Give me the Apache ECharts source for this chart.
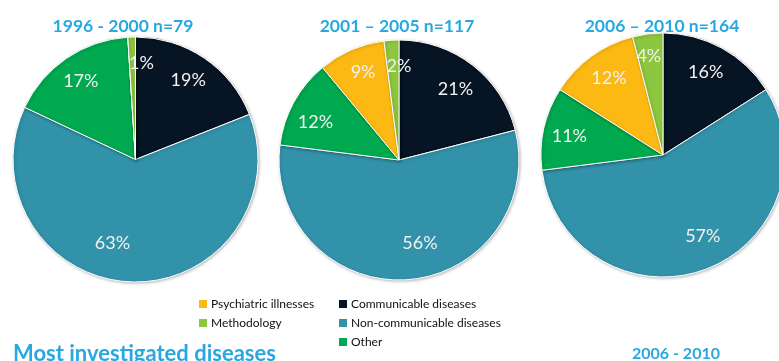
<!DOCTYPE html>
<html>
<head>
<meta charset="utf-8">
<script src="https://cdn.jsdelivr.net/npm/echarts@6/dist/echarts.min.js"></script>
<style>
html,body{margin:0;padding:0;background:#fff;}
#c{width:779px;height:361px;}
</style>
</head>
<body>
<div id="c"></div>
<script>
const categories = ['Communicable diseases','Non-communicable diseases','Other','Psychiatric illnesses','Methodology'];
const colors = ['#061423','#3192aa','#00a84f','#fdb913','#8dc63f'];
const periodTitles = ['1996 - 2000 n=79','2001 \u2013 2005 n=117','2006 \u2013 2010 n=164'];
const values1996 = [19,63,17,0,1];
const values2001 = [21,56,12,9,2];
const values2006 = [16,57,11,12,4];
const legendLeft = ['Psychiatric illnesses','Methodology'];
const legendRight = ['Communicable diseases','Non-communicable diseases','Other'];

const FONT = 'Lato, "Open Sans", sans-serif';
const BLUE = '#29a8e0';

// label nudges (style only), per pie, per category
const nudges = [
  [[-2,1],[-20,-14],[0,2],[0,0],[9,1]],
  [[-2,5],[15,-12],[0,8],[2,0],[6,1]],
  [[-4,2],[7,-10],[1,2],[3,2],[-2,-3]]
];

const pies = [
  {vals: values1996, center: [135.5,159.5], r: 122.5, title: periodTitles[0], tx: 118},
  {vals: values2001, center: [399,160], r: 120, title: periodTitles[1], tx: 392},
  {vals: values2006, center: [663,155], r: 122, title: periodTitles[2], tx: 657}
];

const series = [];
pies.forEach((p, pi) => {
  const data = categories.map((n,i)=>({name:n, value:p.vals[i]}));
  series.push({
    type:'pie', center:p.center, radius:[0,p.r], startAngle:90, clockwise:true,
    avoidLabelOverlap:false, animation:false, silent:true,
    itemStyle:{borderColor:'#fff', borderWidth:1, shadowBlur:3, shadowColor:'rgba(0,0,0,0.25)', shadowOffsetX:1, shadowOffsetY:1},
    label:{show:false}, labelLine:{show:false},
    data
  });
  series.push({
    type:'pie', center:p.center, radius:[p.r*0.54,p.r], startAngle:90, clockwise:true,
    avoidLabelOverlap:false, animation:false, silent:true,
    itemStyle:{color:'rgba(0,0,0,0)', borderWidth:0},
    label:{show:true, position:'inside', color:'#f2f2f2', fontSize:18, fontFamily:FONT,
      formatter: d => d.value ? d.value + '%' : ''},
    labelLine:{show:false},
    labelLayout: params => ({dx: nudges[pi][params.dataIndex][0], dy: nudges[pi][params.dataIndex][1]}),
    data
  });
});

const titles = pies.map(p => ({
  text:p.title, left:p.tx, top:12, textAlign:'center',
  textStyle:{color:BLUE, fontSize:17.5, fontWeight:'bold', fontFamily:FONT}
}));
titles.push({text:'Most investigated diseases', left:8, top:338,
  textStyle:{color:BLUE, fontSize:22, fontWeight:'bold', fontFamily:FONT}});
titles.push({text:'2006 - 2010', left:671, top:341, textAlign:'center',
  textStyle:{color:BLUE, fontSize:16, fontWeight:'bold', fontFamily:FONT}});

const legendCommon = {orient:'vertical', top:298, padding:0, itemWidth:10, itemHeight:10, itemGap:7,
  icon:'rect', selectedMode:false,
  textStyle:{fontSize:12, color:'#111', fontFamily:FONT, padding:[0,0,0,-2]}};

const option = {
  backgroundColor:'#fff',
  color: colors,
  title: titles,
  legend: [
    Object.assign({}, legendCommon, {left:197, data:legendLeft}),
    Object.assign({}, legendCommon, {left:337, data:legendRight})
  ],
  series
};
const chart = echarts.init(document.getElementById('c'), null, {renderer:'canvas'});
chart.setOption(option);
</script>
</body>
</html>
